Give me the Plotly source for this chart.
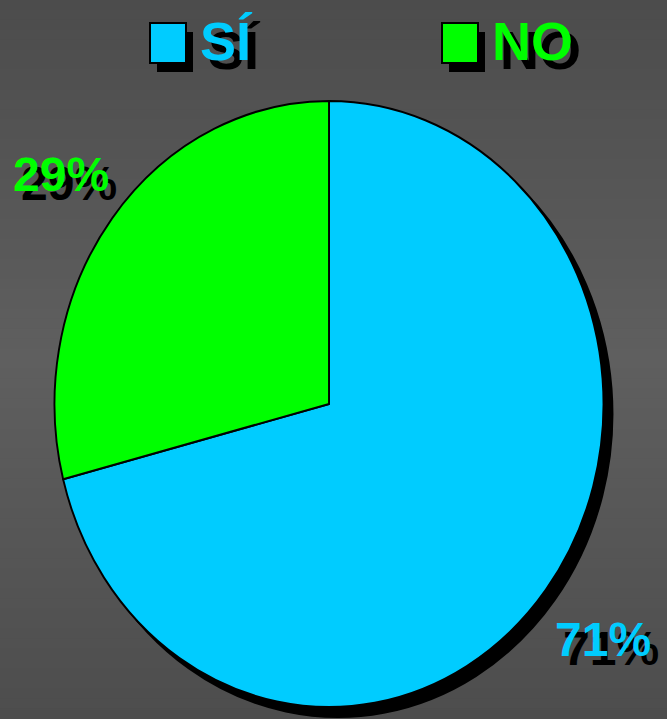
import numpy as np
import plotly.graph_objects as go

# ---- data ----
categories = ["SÍ", "NO"]
values = [71, 29]
label_texts = ["71%", "29%"]
colors = ["#00CCFF", "#00FF00"]

# ---- geometry (pixels) ----
W, H = 667, 719
CX, CY = 329, 404          # pie centre
RX, RY = 274.5, 303        # ellipse radii of the drawn pie
R0 = 289                   # radius plotly draws before squashing
SX, SY = RX / R0, RY / R0
SH_DX, SH_DY = 9, 10       # pie shadow offset
TXT_SHADOW = "8px 9px 0px #000000"
FONT = "Liberation Sans, Arial, sans-serif"


def px(x, y):
    return x / W, 1 - y / H


def domain(cx, cy):
    return dict(x=[(cx - R0) / W, (cx + R0) / W],
                y=[1 - (cy + R0) / H, 1 - (cy - R0) / H])


fig = go.Figure()

# shadow pie
fig.add_trace(go.Pie(
    labels=categories, values=values, sort=False, direction="clockwise",
    rotation=0, textinfo="none", hoverinfo="skip", showlegend=False,
    marker=dict(colors=["#000000", "#000000"], line=dict(color="#000000", width=2)),
    domain=domain(CX + SH_DX, CY + SH_DY),
))
# main pie
fig.add_trace(go.Pie(
    labels=categories, values=values, sort=False, direction="clockwise",
    rotation=0, textinfo="none", showlegend=False,
    marker=dict(colors=colors, line=dict(color="#000000", width=2)),
    domain=domain(CX, CY),
))

shapes = []
# background vertical gradient (lighter in the middle)
stops_y = [0, 360, 719]
stops_v = [76, 95, 77]
N = 72
for i in range(N):
    y0 = i * H / N
    y1 = (i + 1) * H / N
    v = int(round(np.interp((y0 + y1) / 2, stops_y, stops_v)))
    shapes.append(dict(type="rect", xref="paper", yref="paper", layer="below",
                       x0=0, x1=1, y0=1 - y1 / H - 0.001, y1=1 - y0 / H + 0.001,
                       fillcolor=f"rgb({v},{v},{v})", line=dict(width=0)))

annotations = []

# custom legend
legend_x = [150, 442]
for cat, col, lx in zip(categories, colors, legend_x):
    x0, y0 = px(lx + 7, 23 + 9)
    x1, y1 = px(lx + 36 + 7, 63 + 9)
    shapes.append(dict(type="rect", xref="paper", yref="paper",
                       x0=x0, x1=x1, y0=y1, y1=y0, fillcolor="#000000",
                       line=dict(width=0)))
    x0, y0 = px(lx, 23)
    x1, y1 = px(lx + 36, 63)
    shapes.append(dict(type="rect", xref="paper", yref="paper",
                       x0=x0, x1=x1, y0=y1, y1=y0, fillcolor=col,
                       line=dict(color="#000000", width=2)))
    ax, ay = px(lx + 48, 41)
    annotations.append(dict(x=ax, y=ay, xref="paper", yref="paper",
                            text=f"<b>{cat}</b>", showarrow=False,
                            xanchor="left", yanchor="middle",
                            font=dict(family=FONT, size=54, color=col,
                                      shadow=TXT_SHADOW)))

# percentage labels placed outside the slices
fr = np.array(values, dtype=float) / sum(values)
mid = np.cumsum(fr) - fr / 2
K = 1.25
for t, col, m in zip(label_texts, colors, mid):
    th = 2 * np.pi * m
    lx = CX + K * RX * np.sin(th) + 3
    ly = CY - K * RY * np.cos(th) + 3
    ax, ay = px(lx, ly)
    annotations.append(dict(x=ax, y=ay, xref="paper", yref="paper",
                            text=f"<b>{t}</b>", showarrow=False,
                            xanchor="center", yanchor="middle",
                            font=dict(family=FONT, size=48, color=col,
                                      shadow=TXT_SHADOW)))

fig.update_layout(
    width=W, height=H, margin=dict(l=0, r=0, t=0, b=0),
    paper_bgcolor="#555555", plot_bgcolor="#555555",
    showlegend=False, shapes=shapes, annotations=annotations,
)

post = """
document.documentElement.style.margin = '0';
document.body.style.margin = '0';
document.body.style.overflow = 'hidden';
var gd = document.getElementById('{plot_id}');
function squash(){
  gd.querySelectorAll('.pielayer .trace').forEach(function(g){
    if (!g.hasAttribute('data-base')) g.setAttribute('data-base', g.getAttribute('transform') || '');
    var base = g.getAttribute('data-base');
    var b = g.getBBox();
    var cx = b.x + b.width/2, cy = b.y + b.height/2;
    g.setAttribute('transform', base + ' translate(' + cx + ',' + cy + ') scale(%f,%f) translate(' + (-cx) + ',' + (-cy) + ')');
  });
}
squash();
gd.on('plotly_afterplot', squash);
""" % (SX, SY)

fig.write_html("out.html", post_script=post, config={"displayModeBar": False})
